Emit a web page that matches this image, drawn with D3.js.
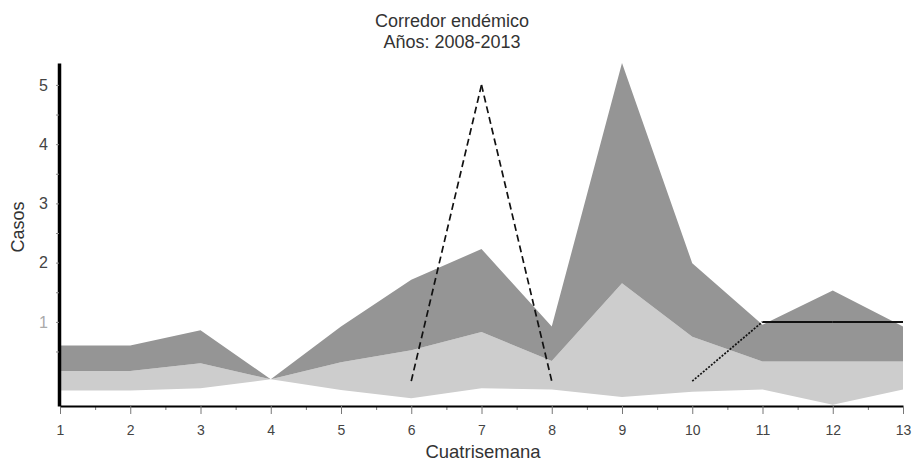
<!DOCTYPE html>
<html>
<head>
<meta charset="utf-8">
<script src="https://cdn.jsdelivr.net/npm/d3@7"></script>
<style>
  body { margin: 0; background: #fff; }
  svg { display: block; font-family: "Liberation Sans", Arial, sans-serif; }
</style>
</head>
<body>
<div id="chart"></div>
<script>
// data
const cuatrisemana = [1, 2, 3, 4, 5, 6, 7, 8, 9, 10, 11, 12, 13];
const limiteInferior = [-0.16, -0.16, -0.12, 0.03, -0.15, -0.29, -0.12, -0.14, -0.27, -0.18, -0.14, -0.40, -0.14];
const mediana        = [0.17, 0.17, 0.30, 0.03, 0.32, 0.52, 0.83, 0.34, 1.65, 0.75, 0.33, 0.33, 0.33];
const limiteSuperior = [0.60, 0.60, 0.86, 0.03, 0.92, 1.71, 2.23, 0.92, 5.37, 1.99, 0.95, 1.53, 0.92];
const casos          = [null, null, null, null, null, 0, 5, 0, null, 0, 1, 1, 1];
const yTickLabels = [1, 2, 3, 4, 5];

// line style per segment (keyed by starting cuatrisemana)
const segmentDash = {6: "7,4", 7: "7,4", 10: "2,1.5"};

const width = 913, height = 462;

const svg = d3.select("#chart")
  .append("svg")
  .attr("width", width)
  .attr("height", height);

const x = d3.scaleLinear().domain([1, 13]).range([60, 903]);
const y = d3.scaleLinear().domain([-0.42, 5.37]).range([406, 63]);

const rows = cuatrisemana.map((c, i) => ({
  c: c, lo: limiteInferior[i], mid: mediana[i], hi: limiteSuperior[i], obs: casos[i]
}));

// zones
const areaLow = d3.area()
  .x(d => x(d.c))
  .y0(d => y(d.lo))
  .y1(d => y(d.mid));

const areaHigh = d3.area()
  .x(d => x(d.c))
  .y0(d => y(d.mid))
  .y1(d => y(d.hi));

svg.append("path")
  .datum(rows)
  .attr("d", areaLow)
  .attr("fill", "#cdcdcd");

svg.append("path")
  .datum(rows)
  .attr("d", areaHigh)
  .attr("fill", "#959595");

// observed cases
const segments = [];
for (let i = 0; i < rows.length - 1; i++) {
  if (rows[i].obs != null && rows[i + 1].obs != null) {
    segments.push([rows[i], rows[i + 1]]);
  }
}

svg.append("g")
  .selectAll("line")
  .data(segments)
  .join("line")
  .attr("x1", d => x(d[0].c))
  .attr("y1", d => y(d[0].obs))
  .attr("x2", d => x(d[1].c))
  .attr("y2", d => y(d[1].obs))
  .attr("stroke", "#111")
  .attr("stroke-width", d => segmentDash[d[0].c] ? 1.7 : 2)
  .attr("stroke-dasharray", d => segmentDash[d[0].c] || null);

// x axis
const xMinor = d3.range(1.5, 13, 1);
svg.append("g")
  .attr("transform", "translate(0,406)")
  .call(d3.axisBottom(x).tickValues(xMinor).tickSize(4).tickFormat(""))
  .call(g => g.select(".domain").remove())
  .selectAll("line").attr("stroke", "#777");

const xAxis = svg.append("g")
  .attr("transform", "translate(0,406)")
  .call(d3.axisBottom(x).tickValues(cuatrisemana).tickSize(8).tickSizeOuter(0).tickPadding(11).tickFormat(d3.format("d")));
xAxis.select(".domain").attr("stroke", "#000").attr("stroke-width", 2);
xAxis.selectAll(".tick line").attr("stroke", "#777");
xAxis.selectAll("text").style("font-size", "14px").attr("fill", "#444");

// y axis
const yTicks = d3.range(0.5, 5.01, 0.5);
const yAxis = svg.append("g")
  .attr("transform", "translate(59,0)")
  .call(d3.axisLeft(y).tickValues(yTicks).tickSize(3).tickSizeOuter(0).tickPadding(8)
    .tickFormat(d => yTickLabels.includes(d) ? d : ""));
yAxis.select(".domain").attr("stroke", "#000").attr("stroke-width", 3.5);
yAxis.selectAll(".tick line").attr("stroke", "#888");
yAxis.selectAll("text").style("font-size", "16px").attr("fill", d => d === 1 ? "#aaa" : "#444");

// titles
svg.append("text")
  .attr("x", 452).attr("y", 27)
  .attr("text-anchor", "middle")
  .style("font-size", "18px").attr("fill", "#333")
  .text("Corredor endémico");

svg.append("text")
  .attr("x", 452).attr("y", 48)
  .attr("text-anchor", "middle")
  .style("font-size", "18px").attr("fill", "#333")
  .text("Años: 2008-2013");

svg.append("text")
  .attr("x", 483).attr("y", 458)
  .attr("text-anchor", "middle")
  .style("font-size", "18.5px").attr("fill", "#333")
  .text("Cuatrisemana");

svg.append("text")
  .attr("transform", "translate(24,227) rotate(-90)")
  .attr("text-anchor", "middle")
  .style("font-size", "18px").attr("fill", "#333")
  .text("Casos");
</script>
</body>
</html>
